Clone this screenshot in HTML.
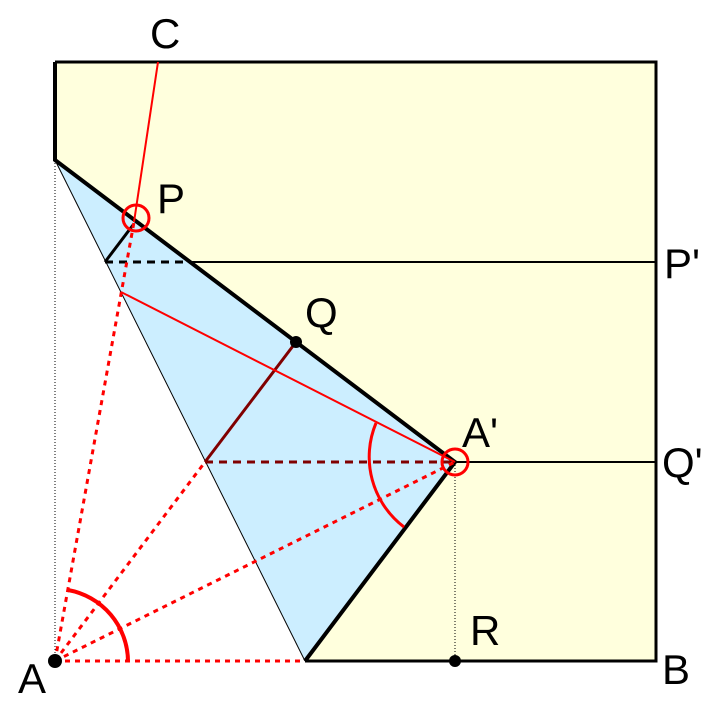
<!DOCTYPE html>
<html><head><style>body{margin:0;background:#fff}svg{display:block}</style></head><body>
<svg width="720" height="710" viewBox="0 0 720 710" xmlns="http://www.w3.org/2000/svg" font-family="Liberation Sans, sans-serif">
<polygon points="55,62 656,62 656,661 305,661 455,462 55,160" fill="#ffffdd"/>
<polygon points="55,160 455,462 305,661" fill="#cceeff"/>
<line x1="55" y1="160" x2="305" y2="661" stroke="#000" stroke-width="1"/>
<line x1="55" y1="160" x2="55" y2="661" stroke="#000" stroke-width="1" stroke-dasharray="1,2"/>
<line x1="455" y1="462" x2="455" y2="661" stroke="#000" stroke-width="1" stroke-dasharray="1,2"/>
<line x1="190" y1="262" x2="656" y2="262" stroke="#000" stroke-width="2"/>
<line x1="105" y1="262" x2="190" y2="262" stroke="#000" stroke-width="3" stroke-dasharray="8,6"/>
<line x1="105" y1="262" x2="133" y2="225" stroke="#000" stroke-width="3"/>
<line x1="455" y1="462" x2="656" y2="462" stroke="#000" stroke-width="2"/>
<line x1="205" y1="462" x2="455" y2="462" stroke="#800000" stroke-width="3" stroke-dasharray="8,6"/>
<line x1="296" y1="342" x2="205" y2="462" stroke="#800000" stroke-width="3"/>
<polyline points="55,62 55,160 455,462 305,661" fill="none" stroke="#000" stroke-width="4"/>
<polyline points="305,661 656,661 656,62 55,62" fill="none" stroke="#000" stroke-width="3"/>
<line x1="158" y1="62" x2="134" y2="222" stroke="red" stroke-width="2"/>
<line x1="121" y1="292" x2="455" y2="462" stroke="red" stroke-width="2"/>
<g stroke="red" stroke-width="3" stroke-dasharray="5,5" fill="none">
<line x1="55" y1="661" x2="134" y2="222"/>
<line x1="55" y1="661" x2="205" y2="462"/>
<line x1="55" y1="661" x2="455" y2="462"/>
<line x1="55" y1="661" x2="305" y2="661"/>
</g>
<path d="M128,661 A73,73 0 0 0 68,590" fill="none" stroke="red" stroke-width="4"/>
<path d="M376,423 A88,88 0 0 0 404,527" fill="none" stroke="red" stroke-width="3"/>
<circle cx="136" cy="218" r="13" fill="none" stroke="red" stroke-width="3"/>
<circle cx="455" cy="462" r="13" fill="none" stroke="red" stroke-width="3"/>
<circle cx="296" cy="342" r="6"/><circle cx="455" cy="661" r="6"/><circle cx="55" cy="661" r="7"/>
<g font-size="42" fill="#000">
<text x="150" y="48">C</text>
<text x="157" y="213">P</text>
<text x="305" y="327">Q</text>
<text x="462" y="447">A'</text>
<text x="664" y="278">P'</text>
<text x="662" y="477">Q'</text>
<text x="470" y="645">R</text>
<text x="18" y="693">A</text>
<text x="662" y="684">B</text>
</g>
</svg>
</body></html>
